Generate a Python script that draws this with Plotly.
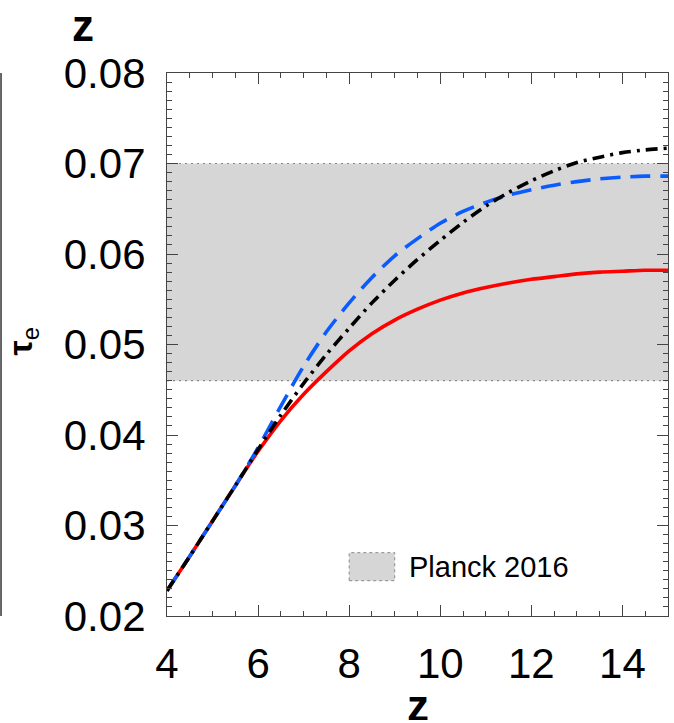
import plotly.graph_objects as go

z = [4, 4.5, 5, 5.5, 6, 6.5, 7, 7.5, 8, 8.5, 9, 9.5, 10, 10.5, 11, 11.5, 12, 12.5, 13, 13.5, 14, 14.5, 15]
tau_red = [0.0228, 0.0266, 0.0305, 0.0344, 0.0382, 0.0416, 0.0445, 0.0470, 0.0493, 0.0512, 0.0527, 0.0539,
           0.0549, 0.0557, 0.0563, 0.0568, 0.0572, 0.0575, 0.0578, 0.0580, 0.0581, 0.0582, 0.0582]
tau_blue = [0.0228, 0.0266, 0.0305, 0.0344, 0.0386, 0.0432, 0.0476, 0.0514, 0.0546, 0.0574, 0.0598, 0.0617,
            0.0634, 0.0647, 0.0657, 0.0665, 0.0671, 0.0676, 0.0680, 0.0683, 0.0685, 0.0686, 0.0686]
tau_black = [0.0228, 0.0266, 0.0305, 0.0344, 0.0384, 0.0422, 0.0457, 0.0489, 0.0518, 0.0546, 0.0571, 0.0594,
             0.0615, 0.0635, 0.0653, 0.0668, 0.0681, 0.0692, 0.0701, 0.0707, 0.0712, 0.0715, 0.0717]

planck_lo = 0.046
planck_hi = 0.070
planck_label = "Planck 2016"
x_range = [4, 15]
y_range = [0.02, 0.08]
x_ticks = [4, 6, 8, 10, 12, 14]
y_ticks = [0.02, 0.03, 0.04, 0.05, 0.06, 0.07, 0.08]

FONT = "Liberation Sans, Arial, Helvetica, sans-serif"
BAND = "#d6d6d6"

fig = go.Figure()

# Planck band
fig.add_trace(go.Scatter(
    x=[x_range[0], x_range[1], x_range[1], x_range[0], x_range[0]],
    y=[planck_lo, planck_lo, planck_hi, planck_hi, planck_lo],
    fill="toself", fillcolor=BAND, mode="lines",
    line=dict(width=0), hoverinfo="skip", showlegend=False))
for yv in (planck_lo, planck_hi):
    fig.add_trace(go.Scatter(x=x_range, y=[yv, yv], mode="lines",
                             line=dict(color="#8a8a8a", width=1.2, dash="2px,4px"),
                             hoverinfo="skip", showlegend=False))

fig.add_trace(go.Scatter(x=z, y=tau_red, mode="lines",
                         line=dict(color="#ff0000", width=3.6, shape="spline", smoothing=0.8),
                         showlegend=False))
fig.add_trace(go.Scatter(x=z, y=tau_blue, mode="lines",
                         line=dict(color="#0a5cff", width=3.6, dash="20px,10px", shape="spline", smoothing=0.8),
                         showlegend=False))
fig.add_trace(go.Scatter(x=z, y=tau_black, mode="lines",
                         line=dict(color="#000000", width=3.6, dash="12px,6px,3px,6px", shape="spline",
                                   smoothing=0.8),
                         showlegend=False))

# legend box
fig.add_shape(type="rect", xref="x", yref="y", x0=8.0, x1=9.0, y0=0.0239, y1=0.0270,
              fillcolor=BAND, line=dict(color="#8a8a8a", width=1, dash="dot"), layer="above")
fig.add_annotation(x=9.27, y=0.02545, xref="x", yref="y", text=planck_label, showarrow=False,
                   xanchor="left", yanchor="middle", font=dict(family=FONT, size=29, color="black"))

axis_common = dict(
    showline=True, linecolor="#444444", linewidth=1.2, mirror="ticks",
    ticks="inside", ticklen=11, tickwidth=1.2, tickcolor="#444444",
    showgrid=False, zeroline=False,
    tickfont=dict(family=FONT, size=42, color="black"),
)

fig.update_xaxes(range=x_range, tickvals=x_ticks, ticktext=[str(v) for v in x_ticks],
                 minor=dict(ticks="inside", ticklen=5, dtick=0.5, tickwidth=1.2, tickcolor="#444444"),
                 ticklabelstandoff=10, **axis_common)
fig.update_yaxes(range=y_range, tickvals=y_ticks, ticktext=[f"{v:.2f}" for v in y_ticks],
                 minor=dict(ticks="inside", ticklen=5, dtick=0.001, tickwidth=1.2, tickcolor="#444444"),
                 ticklabelstandoff=12, **axis_common)

# axis titles
fig.add_annotation(xref="paper", yref="paper", x=0.5, y=-0.1934, text="<b>z</b>", showarrow=False,
                   xanchor="center", yanchor="bottom", height=30, valign="middle", borderpad=0,
                   font=dict(family=FONT, size=44, color="black"))
fig.add_annotation(xref="paper", yref="paper", x=-0.168, y=1.087, text="<b>z</b>", showarrow=False,
                   xanchor="center", yanchor="middle", font=dict(family=FONT, size=44, color="black"))
fig.add_annotation(xref="paper", yref="paper", x=-0.288, y=0.505, text="<b>τ</b><sub>e</sub>", showarrow=False,
                   textangle=-90, xanchor="center", yanchor="middle",
                   font=dict(family=FONT, size=34, color="black"))

# partial axis of neighbouring panel at the far left
fig.add_shape(type="line", xref="paper", yref="paper", x0=-0.3313, x1=-0.3313, y0=0.0, y1=1.0,
              line=dict(color="#333333", width=1.5))

fig.update_layout(
    width=674, height=723,
    margin=dict(l=167, r=6, t=73, b=107),
    paper_bgcolor="white", plot_bgcolor="white",
    font=dict(family=FONT, color="black"),
)

fig.write_html("out.html")
